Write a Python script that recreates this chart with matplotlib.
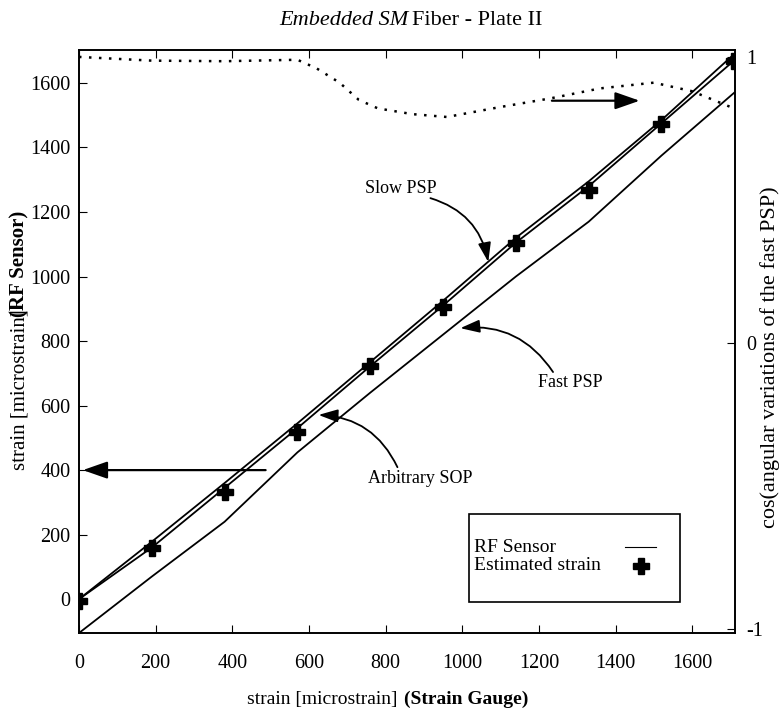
import matplotlib
matplotlib.use("Agg")
import matplotlib.pyplot as plt
from matplotlib.patches import Rectangle

plt.rcParams['font.family'] = ['Liberation Serif', 'DejaVu Serif']

# strain gauge readings (x) and sensor outputs
gauge = [0, 190, 380, 570, 760, 950, 1140, 1330, 1520, 1710]
slow_psp = [0, 178, 360, 545, 735, 925, 1120, 1295, 1485, 1690]
arb_sop = [0, 160, 345, 530, 722, 910, 1105, 1280, 1475, 1670]
fast_psp = [-105, 70, 240, 455, 640, 820, 1000, 1170, 1375, 1570]
estimated = [-5, 158, 332, 518, 722, 905, 1104, 1268, 1473, 1668]

# cos of angular variation of fast PSP (right axis)
cos_x = [0, 190, 380, 570, 620, 680, 730, 780, 870, 960, 1100, 1230, 1360, 1500, 1600, 1700]
cos_y = [1.0, 0.987, 0.985, 0.99, 0.96, 0.91, 0.85, 0.82, 0.80, 0.79, 0.825, 0.855, 0.89, 0.91, 0.88, 0.825]

fig = plt.figure(figsize=(7.82, 7.14), dpi=100)
ax = fig.add_axes([0.101, 0.1134, 0.839, 0.8165])

ax.plot(gauge, slow_psp, color='black', lw=1.3)
ax.plot(gauge, arb_sop, color='black', lw=1.3)
ax.plot(gauge, fast_psp, color='black', lw=1.3)
ax.plot(gauge, estimated, linestyle='none', marker='P', color='black', markersize=11)

ax.set_xlim(0, 1712)
ax.set_ylim(-105, 1702)
ax.set_xticks(range(0, 1700, 200))
ax.set_yticks(range(0, 1700, 200))
ax.tick_params(direction='in', top=True, right=False, labelsize=14.5, length=6)
ax.tick_params(axis='x', pad=15)
ax.tick_params(axis='y', pad=6)

ax2 = ax.twinx()
ax2.plot(cos_x, cos_y, color='black', lw=1.8, linestyle=(0, (1, 3)))
ax2.set_ylim(-1.014, 1.024)
ax2.set_yticks([-1, 0, 1])
ax2.set_yticklabels(['-1', '0', '1'])
ax2.tick_params(direction='in', labelsize=14.5, length=6, pad=8)

for a in (ax, ax2):
    for s in a.spines.values():
        s.set_linewidth(1.2)

# arrows pointing to the axes each curve belongs to
arrow_style = dict(arrowstyle='-|>,head_length=1.0,head_width=0.35', color='black', lw=1.6,
                   mutation_scale=15, shrinkA=0, shrinkB=0)
ax.annotate('', xy=(10, 400), xytext=(487, 400), arrowprops=arrow_style)
ax.annotate('', xy=(1463, 1545), xytext=(1234, 1545), arrowprops=arrow_style)

# curve labels
curve_style = dict(arrowstyle='-|>,head_length=0.9,head_width=0.3', color='black', lw=1.3,
                   mutation_scale=13, shrinkA=0, shrinkB=0)
ax.annotate('', xy=(1068, 1045), xytext=(917, 1243),
            arrowprops=dict(curve_style, connectionstyle='arc3,rad=-0.3'))
ax.text(839, 1274, 'Slow PSP', ha='center', va='center', fontsize=13)
ax.annotate('', xy=(995, 840), xytext=(1237, 704),
            arrowprops=dict(curve_style, connectionstyle='arc3,rad=0.3'))
ax.text(1281, 670, 'Fast PSP', ha='center', va='center', fontsize=13)
ax.annotate('', xy=(625, 571), xytext=(831, 409),
            arrowprops=dict(curve_style, connectionstyle='arc3,rad=0.3'))
ax.text(891, 375, 'Arbitrary SOP', ha='center', va='center', fontsize=13)

# legend box, drawn by hand so the symbols sit right of the text
ax.add_patch(Rectangle((0.595, 0.053), 0.321, 0.151, transform=ax.transAxes,
                       facecolor='white', edgecolor='black', lw=1.2, zorder=5))
ax.text(0.602, 0.147, 'RF Sensor', transform=ax.transAxes, ha='left', va='center',
        fontsize=14, zorder=6)
ax.text(0.602, 0.115, 'Estimated strain', transform=ax.transAxes, ha='left', va='center',
        fontsize=14, zorder=6)
ax.plot([0.832, 0.88], [0.147, 0.147], transform=ax.transAxes, color='black', lw=0.8,
        zorder=6)
ax.plot([0.857], [0.115], transform=ax.transAxes, marker='P', color='black',
        markersize=11, linestyle='none', zorder=6)

fig.text(0.522, 0.985, 'Embedded SM', ha='right', va='top', fontsize=16, style='italic')
fig.text(0.527, 0.985, 'Fiber - Plate II', ha='left', va='top', fontsize=16)

fig.text(0.508, 0.02, 'strain [microstrain]', ha='right', va='center', fontsize=14)
fig.text(0.516, 0.02, '(Strain Gauge)', ha='left', va='center', fontsize=14, weight='bold')

fig.text(0.025, 0.455, 'strain [microstrain]', ha='center', va='center', rotation=90,
         fontsize=15)
fig.text(0.025, 0.63, '(RF Sensor)', ha='center', va='center', rotation=90, fontsize=15,
         weight='bold')
fig.text(0.985, 0.5, 'cos(angular variations of the fast PSP)', ha='center', va='center',
         rotation=90, fontsize=16)

fig.savefig('out.png', dpi=100)
